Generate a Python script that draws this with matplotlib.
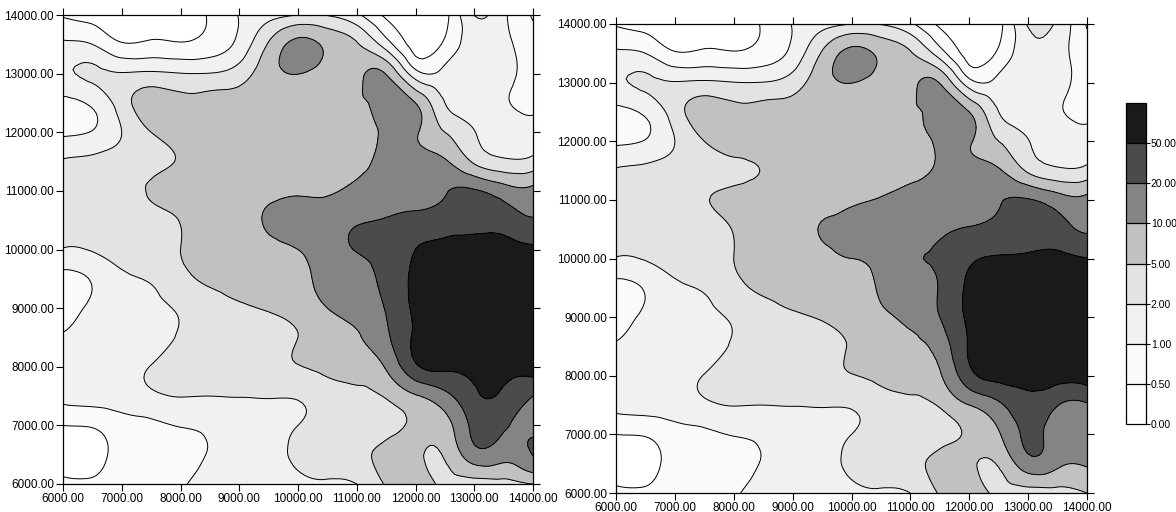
import numpy as np
import matplotlib
matplotlib.use("Agg")
import matplotlib.pyplot as plt
import matplotlib.tri as mtri
from matplotlib.colors import ListedColormap

# grid nodes (metres)
x_vals = [6000, 6500, 7000, 7500, 8000, 8500, 9000, 9500, 10000,
          10500, 11000, 11500, 12000, 12500, 13000, 13500, 14000]
y_vals = [14000, 13500, 13000, 12500, 12000, 11500, 11000, 10500, 10000,
          9500, 9000, 8500, 8000, 7500, 7000, 6500, 6000]

# contour levels shown in the legend bar
levels = [0.0, 0.5, 1.0, 2.0, 5.0, 10.0, 20.0, 50.0, 100.0]
level_labels = ["0.00", "0.50", "1.00", "2.00", "5.00", "10.00", "20.00", "50.00"]
band_colors = ["#ffffff", "#fbf9fb", "#f2f0f2", "#e3e3e3",
               "#c1c0c2", "#848484", "#4a4b4a", "#1a1a1a"]

# values, rows top (14000) to bottom (6000)
left_grid = [
    [0.45, 0.3, 0.2, 0.2, 0.25, 0.55, 1.05, 1.6, 2.0, 1.95, 1.2, 0.4, 0.2, 0.35, 2.1, 1.2, 0.45],
    [1.2, 1.0, 0.55, 0.6, 0.55, 0.7, 1.3, 5.5, 13, 9, 5.5, 1.5, 0.3, 0.6, 1.5, 1.3, 0.7],
    [1.9, 2.5, 2.2, 2.5, 2.1, 2.1, 3.5, 8, 10.2, 8, 8.5, 9.8, 1.4, 1.3, 1.5, 1.3, 0.8],
    [0.85, 1.2, 3.5, 7.5, 6.5, 7, 7, 7, 7, 7, 9, 13, 10, 2.0, 1.4, 1.1, 0.9],
    [0.9, 1.05, 2.0, 5, 7, 7.5, 7.5, 7.5, 7.5, 8, 8.5, 11, 11, 5, 2.1, 1.5, 1.3],
    [2.3, 2.8, 3.5, 4, 5.5, 7, 7.5, 8, 8, 8.5, 9, 12, 13, 11, 4.5, 2.6, 3],
    [3, 3.5, 4, 5.5, 7, 7.5, 8, 9, 9.5, 9.5, 12, 14, 15, 19, 23, 15, 13],
    [2.8, 3, 3.5, 4, 5.2, 7, 8, 11, 13, 15, 19, 22, 30, 35, 40, 35, 22],
    [1.95, 2.2, 3, 3.5, 5, 6.5, 7.5, 9, 10, 15, 21, 30, 50, 65, 75, 75, 60],
    [0.8, 1.1, 1.8, 2.2, 4, 5.8, 7, 8, 9, 13, 17, 28, 60, 80, 85, 85, 80],
    [0.7, 1.2, 1.5, 1.8, 2.3, 3.5, 4.5, 5.5, 7, 10, 14, 22, 60, 85, 90, 90, 85],
    [1.1, 1.3, 1.5, 1.6, 2.3, 3, 3.5, 4, 5, 7, 9.5, 18, 58, 80, 90, 90, 85],
    [1.4, 1.5, 1.6, 2.1, 3, 3.5, 3.8, 4.2, 4.9, 6, 7.5, 11, 45, 60, 65, 65, 75],
    [1.3, 1.4, 1.5, 1.8, 2.1, 2.0, 2.1, 2.2, 2.3, 3.5, 4, 5.5, 9.5, 17, 45, 45, 20],
    [0.5, 0.55, 0.8, 0.9, 1.05, 1.2, 1.5, 1.7, 2.0, 3, 3.5, 4, 5.5, 8, 28, 24, 17],
    [0.3, 0.3, 0.7, 0.8, 0.85, 1.05, 1.3, 1.7, 2.4, 3, 4, 6.5, 6, 5.5, 16, 14, 21],
    [0.6, 0.6, 0.7, 0.8, 0.95, 1.3, 1.5, 1.6, 1.8, 1.9, 2.0, 5.5, 7, 4.5, 3.5, 4, 5],
]

# values
right_grid = [
    [0.45, 0.3, 0.2, 0.2, 0.25, 0.55, 1.05, 1.6, 2.0, 1.95, 1.2, 0.4, 0.2, 0.35, 2.4, 1.8, 0.45],
    [1.2, 1.0, 0.55, 0.6, 0.55, 0.7, 1.3, 5.5, 13, 9, 5.5, 1.5, 0.3, 0.6, 1.6, 1.4, 0.7],
    [1.9, 2.5, 2.2, 2.5, 2.1, 2.1, 3.5, 8, 10.2, 8, 8.5, 9.8, 1.4, 1.3, 1.5, 1.3, 0.8],
    [0.85, 1.2, 3.5, 7.5, 6.5, 7, 7, 7, 7, 7, 9, 13, 10, 2.0, 1.4, 1.1, 0.9],
    [0.9, 1.05, 2.0, 5, 7, 7.5, 7.5, 7.5, 7.5, 8, 8.5, 11, 11, 5, 2.1, 1.5, 1.3],
    [2.3, 2.8, 3.5, 4, 4.5, 5.2, 7.5, 8, 8, 8.5, 9, 11, 13, 11, 4.5, 2.6, 3],
    [3, 3.5, 4, 4.8, 6, 7, 8, 8.5, 9.5, 10.5, 12, 14, 16, 19, 22, 15, 13],
    [2.8, 3, 3.5, 4, 5.2, 7, 8, 10.5, 12, 14, 15, 18, 22, 28, 35, 30, 19],
    [1.95, 2.2, 3, 3.5, 5, 6.5, 7.5, 9, 10, 13, 19, 25, 45, 55, 60, 65, 52],
    [0.8, 1.1, 1.8, 2.2, 4, 5.8, 7, 8, 8.5, 11, 15, 22, 60, 80, 85, 85, 80],
    [0.7, 1.2, 1.5, 1.8, 2.3, 3.5, 4.5, 5.5, 7, 9, 12, 20, 60, 85, 90, 90, 85],
    [1.1, 1.3, 1.5, 1.6, 2.3, 3, 3.5, 4, 5.3, 7, 9, 14, 55, 80, 90, 90, 85],
    [1.4, 1.5, 1.6, 2.1, 3, 3.5, 3.8, 4.2, 4.9, 6, 7.5, 9.5, 40, 65, 70, 70, 75],
    [1.3, 1.4, 1.5, 1.8, 2.1, 2.0, 2.1, 2.2, 2.3, 3.5, 4, 5.5, 10, 18, 40, 21, 19],
    [0.5, 0.55, 0.8, 0.9, 1.05, 1.2, 1.5, 1.7, 2.0, 3, 3.5, 4, 5.5, 9.5, 26, 15, 14],
    [0.3, 0.3, 0.7, 0.8, 0.85, 1.05, 1.3, 1.7, 2.4, 3, 4, 6.5, 6, 5.5, 16, 12, 11],
    [0.6, 0.6, 0.7, 0.8, 0.95, 1.3, 1.5, 1.6, 1.8, 1.9, 2.0, 5.5, 7, 4.5, 3.5, 4, 5],
]

ticks = [6000, 7000, 8000, 9000, 10000, 11000, 12000, 13000, 14000]

plt.rcParams['font.family'] = ['Liberation Sans', 'DejaVu Sans']
fig = plt.figure(figsize=(11.76, 5.12), dpi=100)
fig.patch.set_facecolor("white")

cmap = ListedColormap(band_colors)
X, Y = np.meshgrid(x_vals, y_vals)
band_index = np.arange(len(levels))
triang = mtri.Triangulation(X.ravel(), Y.ravel())
refiner = mtri.UniformTriRefiner(triang)


def draw_map(ax, grid):
    # contour on the band index so the unevenly spaced levels get even steps
    z = np.interp(np.array(grid, dtype=float).ravel(), levels, band_index)
    tri_fine, z_fine = refiner.refine_field(z, subdiv=3)
    z_fine = np.clip(z_fine, 0.02, 7.98)
    cs = ax.tricontourf(tri_fine, z_fine, levels=band_index, cmap=cmap)
    ax.tricontour(tri_fine, z_fine, levels=band_index[1:-1], colors="black", linewidths=0.7)
    ax.set_xlim(6000, 14000)
    ax.set_ylim(6000, 14000)
    ax.set_xticks(ticks)
    ax.set_yticks(ticks)
    ax.set_xticklabels(["%.2f" % t for t in ticks], fontsize=8.5)
    ax.set_yticklabels(["%.2f" % t for t in ticks], fontsize=8.5)
    ax.tick_params(direction="out", length=5, width=0.8, top=True, right=True, pad=1.5)
    for s in ax.spines.values():
        s.set_linewidth(0.9)
    return cs


ax1 = fig.add_axes([63 / 1176, 28 / 512, 470 / 1176, 469 / 512])
cs = draw_map(ax1, left_grid)
ax2 = fig.add_axes([616 / 1176, 19 / 512, 471 / 1176, 469 / 512])
draw_map(ax2, right_grid)

cax = fig.add_axes([1126 / 1176, 88 / 512, 20 / 1176, 321 / 512])
cb = fig.colorbar(cs, cax=cax, ticks=band_index[:-1], drawedges=True)
cb.ax.set_yticklabels(level_labels, fontsize=7.5)
cb.ax.tick_params(length=3, width=0.8, pad=0.5)
cb.outline.set_linewidth(0.9)
cb.dividers.set_linewidth(0.9)

fig.savefig("out.png", dpi=100)
